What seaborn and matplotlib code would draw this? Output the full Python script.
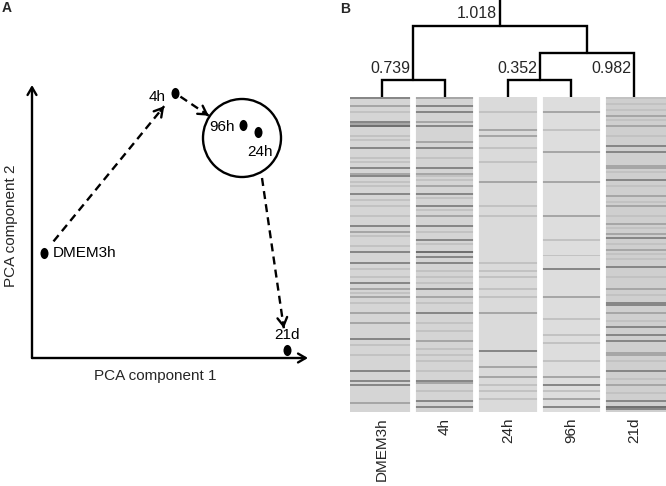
import numpy as np
import pandas as pd
import matplotlib.pyplot as plt
import seaborn as sns
from matplotlib.path import Path
from matplotlib.transforms import Affine2D
from matplotlib.patches import Circle

# PCA scores (arbitrary units)
samples = ["DMEM3h", "4h", "24h", "96h", "21d"]
pca1 = [1.2, 14.3, 22.6, 21.1, 25.5]
pca2 = [10.5, 26.5, 22.6, 23.3, 0.8]

# heatmap columns (dendrogram order) and their darker rows
heat_cols = ["DMEM3h", "4h", "24h", "96h", "21d"]
n_rows = 158
base_level = [0.835, 0.83, 0.855, 0.865, 0.81]
shade_values = {"k": 0.44, "d": 0.53, "m": 0.65, "l": 0.76}

dmem3h_rows = [0, 4, 7, 12, 13, 14, 19, 21, 25, 30, 32, 35, 38, 39, 42, 44, 48, 51, 54, 59, 64,
               67, 69, 74, 77, 83, 86, 90, 93, 96, 98, 100, 103, 108, 113, 121, 124, 129, 137,
               142, 144, 153]
dmem3h_shades = "dmldmk" "lldll" "dmdll" "dllld" "mlldd" "lldml" "mlmmd" "llddd" "m"

h4_rows = [0, 4, 7, 12, 14, 22, 25, 30, 35, 38, 39, 41, 44, 48, 50, 54, 56, 59, 64, 67, 71, 73,
           77, 80, 83, 87, 90, 93, 96, 100, 103, 108, 113, 117, 122, 126, 129, 132, 137, 142,
           143, 147, 152, 155]
h4_shades = "mddmd" "mdldm" "llmdl" "dlmdl" "dlkdd" "llldm" "ldllm" "lllld" "mldd"

h24_rows = [7, 16, 19, 25, 32, 42, 54, 59, 83, 87, 90, 96, 100, 108, 127, 135, 140, 144, 147, 151]
h24_shades = "lmmll" "mllll" "lllmd" "mmlll"

h96_rows = [7, 16, 27, 42, 59, 71, 79, 86, 100, 111, 119, 123, 132, 140, 144, 147, 151, 155]
h96_shades = "mlmmm" "lldml" "lllmd" "lmd"

d21_rows = [0, 3, 6, 9, 11, 14, 19, 24, 27, 34, 35, 37, 41, 44, 49, 52, 54, 59, 63, 65, 68, 70,
            73, 76, 78, 81, 85, 90, 96, 99, 103, 104, 108, 112, 115, 119, 122, 128, 129, 132,
            137, 141, 144, 148, 152, 155, 156]
d21_shades = "lllml" "mlddm" "mldlm" "lmlml" "mdlml" "ldlml" "ddmld" "ddmml" "dlmld" "kd"

# dendrogram merges: leaves 0-4, new nodes numbered 5, 6, ...
merge_pairs = [(0, 1), (2, 3), (6, 4), (5, 7)]
merge_labels = ["0.739", "0.352", "0.982", "1.018"]

# ---- build heatmap table
col_rows = [dmem3h_rows, h4_rows, h24_rows, h96_rows, d21_rows]
col_shades = [dmem3h_shades, h4_shades, h24_shades, h96_shades, d21_shades]
mat = np.ones((n_rows, len(heat_cols)))
for j in range(len(heat_cols)):
    mat[:, j] = base_level[j]
    for r, s in zip(col_rows[j], col_shades[j]):
        mat[r, j] = shade_values[s]
heat_df = pd.DataFrame(mat, columns=heat_cols)

sns.set_style("white")
plt.rcParams["font.family"] = ["Liberation Sans", "DejaVu Sans"]

W, H = 666, 486
fig = plt.figure(figsize=(W / 100, H / 100), dpi=100)

# ---------------- panel A
axa = fig.add_axes([27 / W, 123 / H, 285 / W, 280 / H])
axa.set_xlim(-0.5, 28.0)
axa.set_ylim(-0.5, 27.5)
axa.axis("off")

ell = Path(Affine2D().scale(0.72, 1.0).transform(Path.unit_circle().vertices),
           Path.unit_circle().codes)
pca_df = pd.DataFrame({"sample": samples, "pc1": pca1, "pc2": pca2})
sns.scatterplot(data=pca_df, x="pc1", y="pc2", ax=axa, marker=ell, s=64,
                color="black", edgecolor="black", linewidth=0, zorder=5)

# axis arrows
head = "->,head_length=0.55,head_width=0.32"
axa.annotate("", xy=(27.6, 0), xytext=(0, 0),
             arrowprops=dict(arrowstyle=head, lw=1.7, color="black", shrinkA=0, shrinkB=0))
axa.annotate("", xy=(0, 27.3), xytext=(0, 0),
             arrowprops=dict(arrowstyle=head, lw=1.7, color="black", shrinkA=0, shrinkB=0))

pts = dict(zip(samples, zip(pca1, pca2)))
cluster_c = (21.0, 22.0)
cluster_r = 3.9
axa.add_patch(Circle(cluster_c, cluster_r, fill=False, lw=1.7, color="black"))


def dashed_arrow(p0, p1, s0, s1):
    p0, p1 = np.array(p0), np.array(p1)
    u = (p1 - p0) / np.linalg.norm(p1 - p0)
    a, b = p0 + u * s0, p1 - u * s1
    axa.plot([a[0], b[0]], [a[1], b[1]], color="black", lw=1.7,
             linestyle=(0, (3.4, 2.2)))
    axa.annotate("", xy=b, xytext=b - u * 0.6,
                 arrowprops=dict(arrowstyle="->,head_length=0.6,head_width=0.35",
                                 lw=1.7, color="black", shrinkA=0, shrinkB=0))


dashed_arrow(pts["DMEM3h"], pts["4h"], 1.5, 1.7)
dashed_arrow(pts["4h"], cluster_c, 0.65, 4.0)
dashed_arrow((23.0, 18.0), pts["21d"], 0.0, 2.2)

lab_kw = dict(textcoords="offset points", fontsize=11, color="black")
axa.annotate("4h", pts["4h"], xytext=(-7, -3), ha="right", va="center", **lab_kw)
axa.annotate("96h", pts["96h"], xytext=(-6, -1.5), ha="right", va="center", **lab_kw)
axa.annotate("24h", pts["24h"], xytext=(1.5, -14.5), ha="center", va="center", **lab_kw)
axa.annotate("DMEM3h", pts["DMEM3h"], xytext=(6.5, 0), ha="left", va="center", **lab_kw)
axa.annotate("21d", pts["21d"], xytext=(0, 10.5), ha="center", va="center", **lab_kw)

fig.text(155 / W, 1 - 376 / H, "PCA component 1", fontsize=11, ha="center", va="center")
fig.text(11 / W, 1 - 226 / H, "PCA component 2", fontsize=11, ha="center", va="center",
         rotation=90)

# ---------------- panel B heatmap
axh = fig.add_axes([350 / W, 74 / H, 316 / W, 315 / H])
sns.heatmap(heat_df, ax=axh, cmap="gray", vmin=0, vmax=1, cbar=False, yticklabels=False)
for k in range(1, len(heat_cols)):
    axh.axvline(k, color="white", lw=4.2)
axh.set_xticklabels(heat_cols, rotation=90, fontsize=11)
axh.tick_params(axis="x", length=0, pad=4)

# ---------------- dendrogram
axd = fig.add_axes([350 / W, 1 - 97 / H, 316 / W, 97 / H])
axd.set_xlim(0, 5)
axd.set_ylim(0, 97)
axd.axis("off")
merge_heights = [17, 17, 44, 71]
node_x = {i: i + 0.5 for i in range(5)}
node_h = {i: 0 for i in range(5)}
for m, ((a, b), h) in enumerate(zip(merge_pairs, merge_heights)):
    xa, xb = node_x[a], node_x[b]
    axd.plot([xa, xa, xb, xb], [node_h[a], h, h, node_h[b]], color="black", lw=1.7,
             solid_joinstyle="miter")
    node_x[5 + m] = (xa + xb) / 2
    node_h[5 + m] = h
root = 5 + len(merge_pairs) - 1
axd.plot([node_x[root]] * 2, [node_h[root], 97], color="black", lw=1.7)
label_anchor = [(node_x[5], 29), (node_x[6], 29), (node_x[4], 29), (node_x[root], 84)]
for txt, (lx, ly) in zip(merge_labels, label_anchor):
    axd.annotate(txt, (lx, ly), xytext=(-2, 0), textcoords="offset points",
                 ha="right", va="center", fontsize=11.5, annotation_clip=False)

fig.text(2 / W, 1 - 1 / H, "A", fontsize=10, fontweight="bold", va="top", ha="left")
fig.text(340 / W, 1 - 2 / H, "B", fontsize=10, fontweight="bold", va="top", ha="left")

plt.savefig("out.png", dpi=100)
